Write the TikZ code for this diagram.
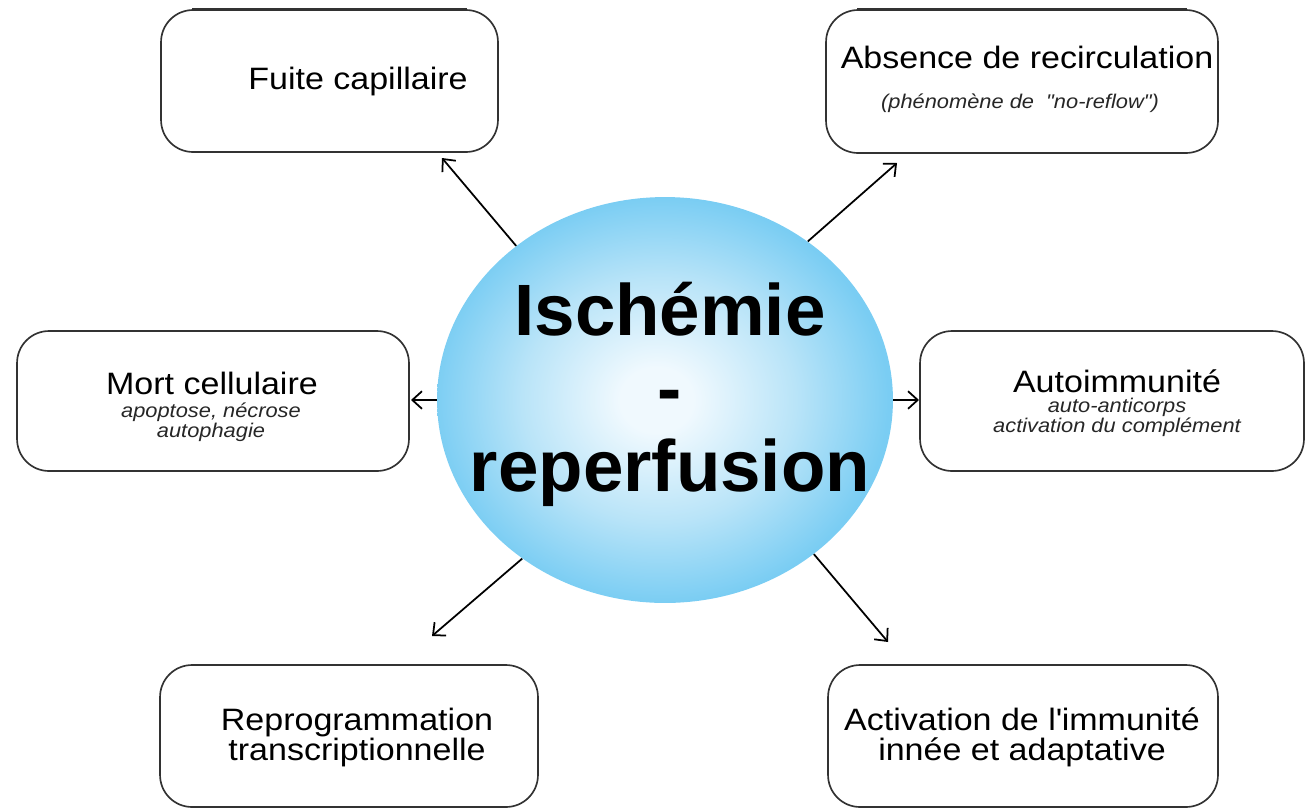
\documentclass[tikz,border=0pt]{standalone}
\usepackage{fontspec}
\setmainfont{Liberation Sans}
\newfontfamily\boxfont{Liberation Sans}[FakeStretch=1.1]
\usetikzlibrary{arrows.meta,shapes.geometric}
\definecolor{boxline}{RGB}{50,50,50}
\definecolor{ballc}{RGB}{240,249,254}
\definecolor{ballm}{RGB}{185,228,248}
\definecolor{balle}{RGB}{122,205,243}
\pgfdeclareradialshading{ischball}{\pgfpoint{-1bp}{0bp}}{color(0bp)=(ballc); color(4bp)=(ballc); color(15bp)=(ballm); color(25bp)=(balle); color(50bp)=(balle)}
\begin{document}
\begin{tikzpicture}[x=0.02cm,y=-0.02cm,
  box/.style={draw=boxline, line width=0.95pt, rounded corners=0.64cm, rectangle, inner sep=0pt},
  ttl/.style={font=\boxfont\fontsize{17.6}{17}\selectfont, anchor=base, align=center, inner sep=0pt},
  sub/.style={font=\boxfont\itshape\fontsize{11.3}{11.3}\selectfont, anchor=base, align=center, inner sep=0pt, text=black!85},
  arr/.style={-{Straight Barb[length=5.5pt,width=10pt]}, line width=1pt},
  topedge/.style={line width=1.8pt, draw=boxline}]
\useasboundingbox (0,0) rectangle (1308,809);

% boxes
\node[box, minimum width=6.74cm, minimum height=2.84cm] (fuite) at (329.5,81) {};
\node[box, minimum width=7.84cm, minimum height=2.86cm] (absence) at (1022,81.5) {};
\node[box, minimum width=7.84cm, minimum height=2.80cm] (mort) at (213,401) {};
\node[box, minimum width=7.68cm, minimum height=2.80cm] (auto) at (1112,401) {};
\node[box, minimum width=7.56cm, minimum height=2.84cm] (repro) at (349,736) {};
\node[box, minimum width=7.80cm, minimum height=2.84cm] (activ) at (1023,736) {};
\draw[topedge] ([xshift=0.64cm]fuite.north west) -- ([xshift=-0.64cm]fuite.north east);
\draw[topedge] ([xshift=0.64cm]absence.north west) -- ([xshift=-0.64cm]absence.north east);

% texts (anchor=base is the baseline of the last line)
\node[ttl] (fuitet) at (358,89) {Fuite capillaire};
\node[ttl] (absencet) at (1027,68) {Absence de recirculation};
\node[sub] (absences) at (1020,108) {(phénomène de\ \ "no-reflow")};
\node[ttl] (mortt) at (212,394) {Mort cellulaire};
\node[sub] (morts) at (211,437) {apoptose, nécrose\\autophagie};
\node[ttl] (autot) at (1117,392) {Autoimmunité};
\node[sub] (autos) at (1117,432) {auto-anticorps\\activation du complément};
\node[ttl] (reprot) at (357,760) {Reprogrammation\\transcriptionnelle};
\node[ttl, font=\boxfont\fontsize{17.6}{16.6}\selectfont] (activt) at (1022,760) {Activation de l\textquotesingle immunité\\innée et adaptative};

% centre
\node[ellipse, minimum width=9.12cm, minimum height=8.12cm, inner sep=0pt, shading=ischball] (isch) at (665,400) {};
\node[font=\bfseries\fontsize{41.4}{44.2}\selectfont, align=center, anchor=base, inner sep=0pt] (ischt) at (670,491) {Ischémie\\-\\reperfusion};

% arrows
\coordinate (tfuite) at (442,158);
\coordinate (tabsence) at (897,163);
\coordinate (tmort) at (411,400);
\coordinate (tauto) at (919,400);
\coordinate (trepro) at (432,636);
\coordinate (tactiv) at (888,642);
\draw[arr] (isch.134) -- (tfuite);
\draw[arr] (isch.48) -- (tabsence);
\draw[arr] (isch.180) -- (tmort);
\draw[arr] (isch.0) -- (tauto);
\draw[arr] (isch.228) -- (trepro);
\draw[arr] (isch.314) -- (tactiv);
\end{tikzpicture}
\end{document}
